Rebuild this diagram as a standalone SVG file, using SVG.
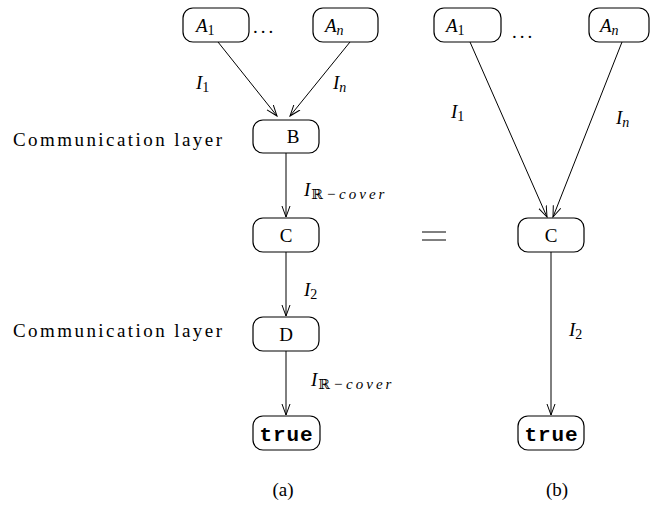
<svg xmlns="http://www.w3.org/2000/svg" width="650" height="508" viewBox="0 0 650 508">
  <defs>
    <marker id="arr" markerWidth="12" markerHeight="10" refX="11" refY="5" orient="auto" markerUnits="userSpaceOnUse">
      <path d="M0,1 L11,5 L0,9" fill="none" stroke="#000" stroke-width="1"/>
    </marker>
    <style>
      .box { fill: #fff; stroke: #000; stroke-width: 1.2; }
      .edge { stroke: #000; stroke-width: 1; fill: none; marker-end: url(#arr); }
      text { font-family: "Liberation Serif", "DejaVu Serif", serif; font-size: 19px; fill: #000; }
      .m { font-style: italic; }
      .sub { font-size: 14px; font-style: normal; }
      .subi { font-size: 14px; font-style: italic; letter-spacing: 2px; }
      .cov { font-size: 15px; font-style: italic; letter-spacing: 3px; }
      .tt { font-family: "Liberation Mono", "DejaVu Sans Mono", monospace; font-weight: bold; font-size: 21px; }
    </style>
  </defs>

  <!-- side labels -->
  <text x="13" y="146" textLength="209">Communication layer</text>
  <text x="13" y="337" textLength="209">Communication layer</text>

  <!-- connectors -->
  <g id="edges">
    <line class="edge" x1="218" y1="42" x2="277" y2="116"/>
    <line class="edge" x1="350" y1="42" x2="290" y2="116"/>
    <line class="edge" x1="286" y1="153" x2="286" y2="217"/>
    <line class="edge" x1="286" y1="252" x2="286" y2="316"/>
    <line class="edge" x1="286" y1="351" x2="286" y2="415"/>
    <line class="edge" x1="470" y1="42" x2="547" y2="217"/>
    <line class="edge" x1="622" y1="42" x2="553" y2="217"/>
    <line class="edge" x1="551" y1="252" x2="551" y2="415"/>
  </g>

  <!-- edge labels -->
  <g id="edge-labels">
    <text x="196" y="89"><tspan class="m">I</tspan><tspan class="sub" dy="3">1</tspan></text>
    <text x="333" y="89"><tspan class="m">I</tspan><tspan class="subi" dy="3">n</tspan></text>
    <text x="304" y="196"><tspan class="m">I</tspan><tspan class="sub" dx="1" dy="3">ℝ</tspan><tspan class="cov" dx="3">−cover</tspan></text>
    <text x="304" y="296"><tspan class="m">I</tspan><tspan class="sub" dy="3">2</tspan></text>
    <text x="311" y="386"><tspan class="m">I</tspan><tspan class="sub" dx="1" dy="3">ℝ</tspan><tspan class="cov" dx="3">−cover</tspan></text>
    <text x="451" y="118"><tspan class="m">I</tspan><tspan class="sub" dy="3">1</tspan></text>
    <text x="616" y="124"><tspan class="m">I</tspan><tspan class="subi" dy="3">n</tspan></text>
    <text x="569" y="336"><tspan class="m">I</tspan><tspan class="sub" dy="3">2</tspan></text>
  </g>

  <!-- (a) -->
  <g id="a-A1"><rect class="box" x="183" y="8" width="66" height="34" rx="10"/><text x="196" y="32"><tspan class="m">A</tspan><tspan class="sub" dy="3">1</tspan></text></g>
  <text x="253" y="33" letter-spacing="3">...</text>
  <g id="a-An"><rect class="box" x="313" y="8" width="65" height="34" rx="10"/><text x="325" y="32"><tspan class="m">A</tspan><tspan class="subi" dy="3">n</tspan></text></g>
  <g id="a-B"><rect class="box" x="253" y="120" width="66" height="33" rx="10"/><text x="293" y="143" text-anchor="middle">B</text></g>
  <g id="a-C"><rect class="box" x="253" y="218" width="66" height="34" rx="10"/><text x="286" y="242" text-anchor="middle">C</text></g>
  <g id="a-D"><rect class="box" x="253" y="317" width="66" height="34" rx="10"/><text x="286" y="341" text-anchor="middle">D</text></g>
  <g id="a-true"><rect class="box" x="253" y="416" width="67" height="34" rx="10"/><text class="tt" x="286" y="441" text-anchor="middle" textLength="53">true</text></g>
  <text x="283" y="496" text-anchor="middle">(a)</text>

  <!-- equality sign -->
  <g id="eq">
    <line x1="422" y1="232" x2="446" y2="232" stroke="#000" stroke-width="1"/>
    <line x1="422" y1="240" x2="446" y2="240" stroke="#000" stroke-width="1"/>
  </g>

  <!-- (b) -->
  <g id="b-A1"><rect class="box" x="434" y="8" width="67" height="34" rx="10"/><text x="446" y="32"><tspan class="m">A</tspan><tspan class="sub" dy="3">1</tspan></text></g>
  <text x="512" y="38" letter-spacing="3">...</text>
  <g id="b-An"><rect class="box" x="589" y="8" width="60" height="34" rx="10"/><text x="600" y="32"><tspan class="m">A</tspan><tspan class="subi" dy="3">n</tspan></text></g>
  <g id="b-C"><rect class="box" x="518" y="218" width="66" height="34" rx="10"/><text x="551" y="242" text-anchor="middle">C</text></g>
  <g id="b-true"><rect class="box" x="518" y="416" width="66" height="34" rx="10"/><text class="tt" x="551" y="441" text-anchor="middle" textLength="53">true</text></g>
  <text x="557" y="496" text-anchor="middle">(b)</text>
</svg>
